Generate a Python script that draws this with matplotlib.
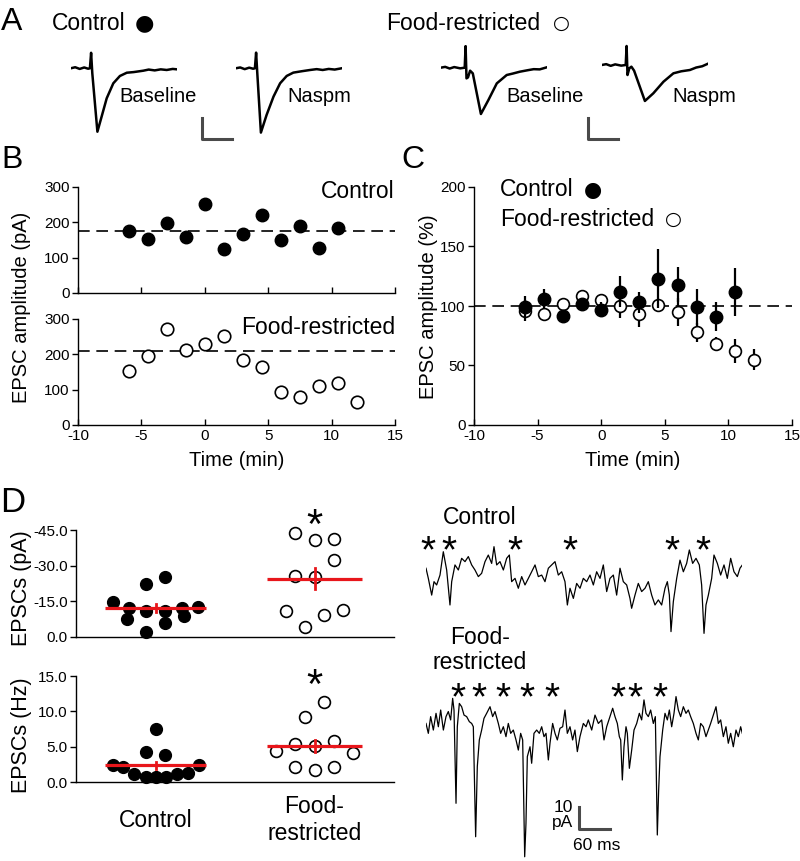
import numpy as np
import matplotlib.pyplot as plt
from matplotlib.ticker import FormatStrFormatter

plt.rcParams['font.family'] = ['Liberation Sans', 'DejaVu Sans']
plt.rcParams['axes.unicode_minus'] = False
plt.rcParams['axes.linewidth'] = 1.0

W, H = 800, 861

# ---------------- data ----------------
# A: evoked EPSCs, pairs of (ms, pA)
a_ctrl_baseline = np.array([
    [0, 0], [1.5, 2.5], [3, -1.5], [4.5, 2], [5.8, -1], [6.4, 0], [6.8, 36.9], [7.2, -11.9],
    [8.9, -150.9], [10.3, -115.2], [12.0, -71.4], [14.2, -35.7], [16.4, -18.3], [18.7, -10.5],
    [21, -9], [24.2, -5.7], [26, -3], [28, -5], [30, -2.5], [32, -4], [34, -1.5], [35.3, -2.4]])
a_ctrl_naspm = np.array([
    [0, 0], [1.5, 2], [3, -2], [4.5, 1.5], [5.8, -1], [6.4, 0], [6.8, 37.3], [7.2, -11.9],
    [8.4, -153], [10.3, -111], [12.6, -67.4], [14.8, -35.7], [17, -18.2], [19.2, -10.3],
    [22, -7], [24.8, -4.0], [27, -2], [29, -4], [31, -1.5], [33, -3], [35.3, 0]])
a_fr_baseline = np.array([
    [0, 0], [1.5, 2], [3, -2], [4.5, 1.5], [6.5, -1.5], [8.0, 0], [8.3, 51.5], [8.6, -25.4],
    [9.1, -23], [9.8, -7.1], [10.7, -13.5], [13.4, -110.2], [15.9, -76.9], [18.7, -37.3],
    [22.0, -17.4], [24, -14], [26.4, -9.5], [29, -6], [31, -3.5], [33, -4], [35.3, 0.8]])
a_fr_naspm = np.array([
    [0, 0], [1.5, 2], [3, -2], [4.5, 1.5], [6.5, -1.5], [8.0, 0], [8.3, 45.2], [8.6, -23.8],
    [9.2, -7.9], [9.9, -4], [10.8, -13.5], [14.4, -85.6], [17.2, -67.4], [20.6, -39.7],
    [23.9, -19.8], [26.5, -15], [29.4, -11.9], [31.5, -6], [33.5, -3], [35.2, 2.4]])

# B: example cells, EPSC amplitude (pA) per time bin (min)
b_time_ctrl = [-6, -4.5, -3, -1.5, 0, 1.5, 3, 4.5, 6, 7.5, 9, 10.5]
b_amp_ctrl = [175, 154, 199, 158, 251, 125, 168, 222, 151, 189, 128, 185]
b_base_ctrl = 175
b_time_fr = [-6, -4.5, -3, -1.5, 0, 1.5, 3, 4.5, 6, 7.5, 9, 10.5, 12]
b_amp_fr = [154, 196, 272, 212, 229, 253, 184, 165, 92, 80, 110, 120, 64]
b_base_fr = 209

# C: normalized EPSC amplitude (%), mean and SEM
c_time_ctrl = b_time_ctrl
c_mean_ctrl = [99, 106, 92, 102, 97, 112, 103, 123, 118, 99, 91, 112]
c_sem_ctrl = [9, 8, 3, 4, 6, 13, 9, 25, 15, 15, 12, 20]
c_time_fr = b_time_fr
c_mean_fr = [96, 93, 102, 108, 105, 100, 93, 101, 95, 78, 68, 62, 55]
c_sem_fr = [9, 3, 3, 3, 3, 10, 11, 5, 12, 8, 6, 10, 9]

# D: sEPSC amplitude (pA) and frequency (Hz) per cell
groups = ['Control', 'Food-\nrestricted']
group_x = [0.5, 1.5]
d_amp_ctrl = [-14.8, -12.2, -7.7, -22.1, -2.1, -11.0, -25.3, -10.8, -5.9, -12.2, -8.7, -12.7]
d_amp_ctrl_jit = [-0.27, -0.165, -0.18, -0.06, -0.06, -0.06, 0.06, 0.06, 0.06, 0.165, 0.18, 0.27]
d_amp_fr = [-43.9, -40.8, -41.3, -32.3, -25.6, -25.3, -11.0, -9.4, -11.3, -4.2]
d_amp_fr_jit = [-0.12, 0, 0.12, 0.12, -0.12, 0, -0.18, 0.06, 0.18, -0.06]
d_amp_mean = [-12.2, -24.6]
d_amp_sem = [1.5, 4.5]
d_freq_ctrl = [2.37, 2.13, 1.09, 0.71, 4.26, 7.43, 0.71, 3.79, 0.71, 1.09, 1.28, 2.46]
d_freq_ctrl_jit = [-0.27, -0.205, -0.135, -0.06, -0.06, 0, 0, 0.06, 0.065, 0.135, 0.205, 0.275]
d_freq_fr = [4.4, 5.35, 9.13, 5.1, 11.36, 5.82, 4.12, 2.13, 1.66, 2.13]
d_freq_fr_jit = [-0.245, -0.12, -0.06, 0, 0.06, 0.12, 0.24, -0.12, 0, 0.12]
d_freq_mean = [2.37, 5.1]
d_freq_sem = [0.5, 0.9]

# D: spontaneous EPSC traces, pairs of (ms, pA)
d_trace_ctrl = np.array([
    [0.0, 0.8], [4.5, -3.8], [11.0, -11.4], [15.5, -5.3], [20.6, -6.8], [27.1, -2.3], [33.5, 8.3],
    [40.0, 0.0], [46.4, -15.9], [49.7, -5.3], [56.1, 2.3], [62.6, 0.0], [69.0, 5.3], [75.5, 3.8],
    [81.9, 6.1], [88.4, 2.3], [94.8, 0.0], [101.3, -3.0], [107.7, -1.5], [114.2, 3.8], [120.6, 6.8],
    [127.1, 3.0], [131.6, 10.6], [136.8, 2.3], [143.2, 3.8], [149.7, 0.0], [156.1, 5.3], [161.3, 6.8],
    [165.8, -5.3], [172.3, -3.8], [178.7, -8.3], [185.2, -3.0], [191.6, -6.8], [198.1, -3.8],
    [204.5, -0.8], [211.0, 2.3], [217.4, -3.0], [223.9, -2.3], [230.3, -5.3], [236.8, 0.8],
    [243.2, 2.3], [249.7, 3.8], [256.1, -2.3], [262.6, -0.8], [269.0, -5.3], [273.6, -15.9],
    [278.7, -8.3], [285.2, -12.9], [291.6, -6.1], [298.1, -8.3], [304.5, -3.8], [311.0, -5.3],
    [317.4, -2.3], [323.9, -6.8], [330.3, -0.8], [336.8, -3.8], [343.2, 2.3], [349.7, -9.8],
    [356.1, -3.8], [362.6, -2.3], [369.0, -11.4], [375.5, 0.8], [381.9, -5.3], [388.4, -6.8],
    [394.8, -12.9], [398.0, -17.4], [404.5, -11.4], [410.9, -6.1], [417.4, -9.8], [423.9, -8.3],
    [430.3, -5.3], [436.8, -11.4], [443.2, -15.9], [449.7, -13.6], [456.1, -15.9], [462.6, -8.3],
    [467.1, -5.3], [471.0, -11.4], [474.2, -28.0], [478.7, -14.4], [485.2, -3.8], [491.6, 4.5],
    [498.1, -0.8], [504.5, 3.0], [509.7, 9.1], [516.1, 3.0], [522.6, 5.3], [529.0, 2.3],
    [533.5, -6.8], [538.1, -28.8], [541.9, -15.9], [546.5, -11.4], [552.9, -3.8], [557.4, 6.8],
    [563.9, 3.0], [570.3, -2.3], [576.8, 2.3], [583.2, -3.8], [589.7, 5.3], [596.1, -0.8],
    [602.6, -3.0], [607.7, 0.8], [612.3, 2.3]])
d_trace_fr = np.array([
    [0.0, -0.2], [4.5, -4.7], [9.0, 2.9], [14.2, -3.2], [19.4, 4.4], [23.9, -1.7], [28.4, 5.9],
    [33.6, -3.2], [38.7, 2.9], [43.2, 5.2], [47.7, 1.4], [51.6, 11.2], [54.2, 5.9], [58.1, -36.5],
    [60.6, -1.7], [64.5, 8.9], [69.0, 7.4], [73.6, 3.6], [78.7, 2.9], [83.9, 0.6], [88.4, -0.2],
    [91.6, -1.7], [96.1, -51.7], [99.3, -19.8], [103.2, -7.7], [107.7, -3.2], [112.2, 2.1],
    [117.4, 4.4], [123.9, 7.4], [129.0, 2.9], [133.6, 5.2], [140.0, -0.2], [144.5, -4.7],
    [149.7, -1.7], [154.8, -6.2], [159.3, -0.2], [163.9, -4.7], [169.0, -3.2], [174.2, -7.7],
    [178.7, -12.3], [183.2, -4.7], [187.1, -7.7], [191.0, -60.8], [193.5, -45.6], [196.1, -15.3],
    [201.3, -10.8], [204.5, -18.3], [209.0, -4.7], [214.2, -3.2], [219.3, -4.7], [223.9, -1.7],
    [228.4, -6.2], [232.3, -4.7], [236.8, -16.8], [240.0, -9.2], [245.1, -0.2], [249.7, -4.7],
    [254.2, -7.7], [259.3, -2.4], [264.5, -1.7], [269.0, 5.9], [273.5, -4.7], [278.7, -1.7],
    [283.8, -7.7], [288.3, -3.2], [292.9, -13.0], [298.0, -6.2], [304.5, -0.2], [309.7, -1.7],
    [314.2, 1.4], [320.7, -3.2], [327.1, 3.6], [333.6, -0.2], [340.0, 1.4], [344.5, -7.7],
    [349.7, -1.7], [356.1, 2.9], [361.3, 6.7], [365.8, 2.9], [370.3, -0.2], [374.2, -6.2],
    [376.8, -7.7], [380.0, -25.9], [383.2, -10.8], [387.1, -1.7], [389.7, -4.7], [393.6, -20.6],
    [398.1, -12.3], [402.6, -3.2], [407.8, -0.2], [412.9, 4.4], [417.4, 1.4], [421.9, 10.5],
    [425.8, 4.4], [430.3, 2.9], [434.8, 5.9], [440.0, -0.2], [443.9, 2.9], [447.7, -50.9],
    [450.3, -30.5], [452.9, -15.3], [458.1, -3.2], [462.6, 4.4], [467.1, 1.4], [471.0, 5.9],
    [475.5, -1.7], [480.0, 4.4], [483.9, 12.0], [488.4, 5.9], [492.9, 2.9], [498.1, 7.4],
    [503.2, 4.4], [507.7, 5.9], [512.2, 2.9], [517.4, -0.2], [522.6, -4.7], [527.1, -7.7],
    [531.6, -0.2], [536.8, -1.7], [541.9, -6.2], [546.4, -3.2], [550.9, -0.2], [556.1, 3.6],
    [561.3, 7.4], [565.8, -0.2], [570.3, 1.4], [575.5, -6.2], [580.6, -1.7], [585.1, -9.2],
    [589.7, -4.7], [594.8, -10.8], [600.0, -3.2], [604.5, -6.2], [609.0, -1.7], [612.2, -4.7]])
d_events_ctrl = [3.9, 44.5, 172.3, 278.7, 476.1, 536.1]
d_events_fr = [61.9, 102.6, 149.0, 195.5, 243.9, 371.6, 404.5, 452.9]

RED = '#e8161b'
BAR = '#4a4a4a'

fig = plt.figure(figsize=(8, 8.61), dpi=100)


def px_box(x0, y0, x1, y1):
    return [x0 / W, 1 - y1 / H, (x1 - x0) / W, (y1 - y0) / H]


def ftext(x, y, s, **kw):
    return fig.text(x / W, 1 - y / H, s, **kw)


def star(ax, x, y_px, size=30):
    # x in data units, y (ink centre) in figure pixels from the top
    dy = 0.24 * size * 100 / 72
    ax.annotate('*', xy=(x, H - y_px - dy), xycoords=('data', 'figure pixels'),
                ha='center', va='center', fontsize=size, annotation_clip=False)


def dot(x, y, filled, size=15):
    ftext(x, y, '\u25CF' if filled else '\u25CB', fontsize=size, family='DejaVu Sans',
          ha='center', va='center')


def trace_axes(left, base_y, t_max, lo, hi, ms_px, pa_px):
    ax = fig.add_axes(px_box(left, base_y - hi * pa_px, left + t_max * ms_px, base_y - lo * pa_px))
    ax.set_xlim(0, t_max)
    ax.set_ylim(lo, hi)
    ax.axis('off')
    return ax


def style(ax):
    ax.spines['top'].set_visible(False)
    ax.spines['right'].set_visible(False)
    ax.tick_params(axis='x', direction='in', length=4, width=1, labelsize=11, pad=3)
    ax.tick_params(axis='y', direction='out', length=4, width=1, labelsize=11, pad=2)


# ---------------- A ----------------
ftext(1, 22, 'A', fontsize=23, va='center')
ftext(52, 23, 'Control', fontsize=16.5, va='center')
dot(144, 23, True, size=16)
ftext(386, 23, 'Food-restricted', fontsize=16.5, va='center')
dot(561, 23, False, size=14)

a_ms_px, a_pa_px = 3, 1 / 2.38
ax = trace_axes(70.7, 68.3, 35.3, -165, 55, a_ms_px, a_pa_px)
ax.plot(a_ctrl_baseline[:, 0], a_ctrl_baseline[:, 1], color='black', lw=1.8)
ax.plot([43.8, 43.8, 53.8], [-118, -168, -168], color=BAR, lw=2.2, clip_on=False)
ax = trace_axes(235.7, 68.3, 35.3, -165, 55, a_ms_px, a_pa_px)
ax.plot(a_ctrl_naspm[:, 0], a_ctrl_naspm[:, 1], color='black', lw=1.8)
ax = trace_axes(440.7, 67.7, 35.3, -165, 55, a_ms_px, a_pa_px)
ax.plot(a_fr_baseline[:, 0], a_fr_baseline[:, 1], color='black', lw=1.8)
ax.plot([49.1, 49.1, 59.1], [-120, -170, -170], color=BAR, lw=2.2, clip_on=False)
ax = trace_axes(601.7, 65, 35.3, -165, 55, a_ms_px, a_pa_px)
ax.plot(a_fr_naspm[:, 0], a_fr_naspm[:, 1], color='black', lw=1.8)

ftext(119, 97, 'Baseline', fontsize=14.5, va='center')
ftext(287, 97, 'Naspm', fontsize=14.5, va='center')
ftext(506, 97, 'Baseline', fontsize=14.5, va='center')
ftext(672, 97, 'Naspm', fontsize=14.5, va='center')

# ---------------- B ----------------
ftext(1, 160, 'B', fontsize=23, va='center')
axB1 = fig.add_axes(px_box(78, 187, 395, 293))
axB2 = fig.add_axes(px_box(78, 319, 395, 425))
for ax in (axB1, axB2):
    style(ax)
    ax.set_xlim(-10, 15)
    ax.set_ylim(0, 300)
    ax.set_xticks(range(-10, 16, 5))
    ax.set_yticks([0, 100, 200, 300])
axB1.tick_params(labelbottom=False)
axB1.axhline(b_base_ctrl, color='black', lw=1.2, ls=(0, (7, 4)))
axB1.plot(b_time_ctrl, b_amp_ctrl, 'o', color='black', ms=9, clip_on=False)
axB2.axhline(b_base_fr, color='black', lw=1.2, ls=(0, (7, 4)))
axB2.plot(b_time_fr, b_amp_fr, 'o', mfc='white', mec='black', mew=1.2, ms=9, clip_on=False)
ftext(395, 191, 'Control', fontsize=16.5, ha='right', va='center')
ftext(395, 327, 'Food-restricted', fontsize=16.5, ha='right', va='center')
ftext(22, 307, 'EPSC amplitude (pA)', fontsize=14.5, rotation=90, ha='center', va='center')
ftext(237, 460, 'Time (min)', fontsize=14.5, ha='center', va='center')

# ---------------- C ----------------
ftext(401, 160, 'C', fontsize=23, va='center')
axC = fig.add_axes(px_box(474, 187, 792, 425))
style(axC)
axC.set_xlim(-10, 15)
axC.set_ylim(0, 200)
axC.set_xticks(range(-10, 16, 5))
axC.set_yticks([0, 50, 100, 150, 200])
axC.axhline(100, color='black', lw=1.2, ls=(0, (7, 4)))
axC.errorbar(c_time_fr, c_mean_fr, yerr=c_sem_fr, fmt='o', mfc='white', mec='black', mew=1.2,
             ms=8.5, ecolor='black', elinewidth=1.6, capsize=0, zorder=3)
axC.errorbar(c_time_ctrl, c_mean_ctrl, yerr=c_sem_ctrl, fmt='o', color='black',
             ms=9, ecolor='black', elinewidth=1.6, capsize=0, zorder=4)
ftext(500, 190, 'Control', fontsize=16.5, va='center')
dot(593, 190, True)
ftext(500, 219, 'Food-restricted', fontsize=16.5, va='center')
dot(673, 219, False, size=14)
ftext(429, 307, 'EPSC amplitude (%)', fontsize=14.5, rotation=90, ha='center', va='center')
ftext(633, 460, 'Time (min)', fontsize=14.5, ha='center', va='center')

# ---------------- D (summary) ----------------
ftext(0, 502, 'D', fontsize=25, va='center')
axD1 = fig.add_axes(px_box(76, 530, 394, 637))
axD2 = fig.add_axes(px_box(76, 676, 394, 782))
for ax in (axD1, axD2):
    style(ax)
    ax.set_xlim(0, 2)
    ax.set_xticks([])
    ax.yaxis.set_major_formatter(FormatStrFormatter('%.1f'))
axD1.set_ylim(0, -45)
axD1.set_yticks([0, -15, -30, -45])
axD2.set_ylim(0, 15)
axD2.set_yticks([0, 5, 10, 15])

panels = [
    (axD1, d_amp_ctrl, d_amp_ctrl_jit, d_amp_fr, d_amp_fr_jit, d_amp_mean, d_amp_sem),
    (axD2, d_freq_ctrl, d_freq_ctrl_jit, d_freq_fr, d_freq_fr_jit, d_freq_mean, d_freq_sem),
]
for ax, vc, jc, vf, jf, means, sems in panels:
    ax.plot(np.array(jc) + group_x[0], vc, 'o', color='black', ms=8.5, clip_on=False, zorder=3)
    ax.plot(np.array(jf) + group_x[1], vf, 'o', mfc='white', mec='black', mew=1.2, ms=8.5,
            clip_on=False, zorder=3)
    for gx, m, s, hw in zip(group_x, means, sems, [0.32, 0.3]):
        ax.plot([gx - hw, gx + hw], [m, m], color=RED, lw=2.3, zorder=4, solid_capstyle='butt')
        ax.plot([gx, gx], [m - s, m + s], color=RED, lw=2, zorder=4)

star(axD1, group_x[1], 517)
star(axD2, group_x[1], 677)
for gx, name in zip(group_x, groups):
    axD2.text(gx, -0.36, name, transform=axD2.get_xaxis_transform(), fontsize=16.5,
              ha='center', va='center')
ftext(22, 588, 'EPSCs (pA)', fontsize=15.5, rotation=90, ha='center', va='center')
ftext(22, 735, 'EPSCs (Hz)', fontsize=15.5, rotation=90, ha='center', va='center')

# ---------------- D (traces) ----------------
d_ms_px, d_pa_px = 31 / 60, 2.2
axT1 = trace_axes(426, 570, 612.3, -30, 13, d_ms_px, d_pa_px)
axT1.plot(d_trace_ctrl[:, 0], d_trace_ctrl[:, 1], color='black', lw=0.9)
axT2 = trace_axes(426, 723, 612.3, -62, 16, d_ms_px, d_pa_px)
axT2.plot(d_trace_fr[:, 0], d_trace_fr[:, 1], color='black', lw=0.9)
for t in d_events_ctrl:
    star(axT1, t, 543, size=28)
for t in d_events_fr:
    star(axT2, t, 690, size=28)

axT2.plot([296, 296, 356], [-38.2, -48.2, -48.2], color=BAR, lw=2.2, clip_on=False)
axT2.text(284, -38.6, '10', fontsize=12.5, ha='right', va='center')
axT2.text(284, -45, 'pA', fontsize=12.5, ha='right', va='center')
axT2.text(331, -55.9, '60 ms', fontsize=12.5, ha='center', va='center')

ftext(480, 518, 'Control', fontsize=16.5, ha='center', va='center')
ftext(480, 650, 'Food-\nrestricted', fontsize=16.5, ha='center', va='center', linespacing=1.1)

fig.savefig('out.png', dpi=100)
